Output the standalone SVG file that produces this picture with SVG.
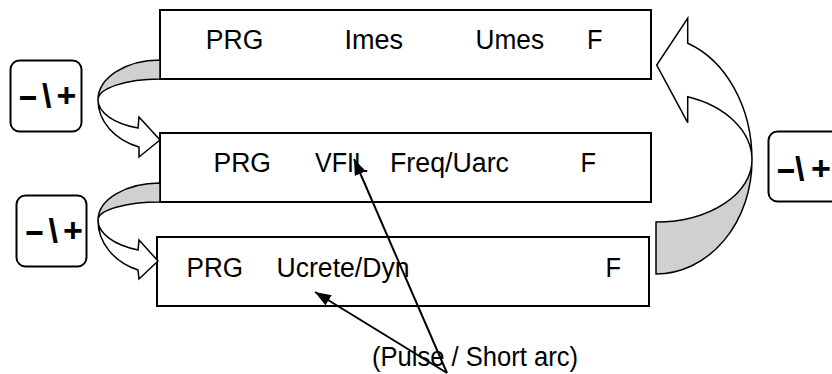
<svg xmlns="http://www.w3.org/2000/svg" width="832" height="374" viewBox="0 0 832 374">
<defs>
<style>
.box{fill:#fff;stroke:#000;stroke-width:2}
.t{font-family:"Liberation Sans",Arial,sans-serif;font-size:27px;fill:#000}
.key{font-family:"Liberation Sans",Arial,sans-serif;font-size:34px;font-weight:bold;fill:#000}
.keybox{fill:#fff;stroke:#000;stroke-width:2}
.back{fill:#d0d0d0;stroke:#000;stroke-width:1.5;stroke-linejoin:round}
.front{fill:#fff;stroke:#000;stroke-width:1.5;stroke-linejoin:miter}
.conn{fill:none;stroke:#000;stroke-width:2}
</style>
<marker id="ah" markerUnits="userSpaceOnUse" markerWidth="18" markerHeight="14" refX="16" refY="6" orient="auto">
<path d="M0,0 L16,6 L0,12 Z" fill="#000"/>
</marker>
</defs>
<rect width="832" height="374" fill="#fff"/>

<g id="box1">
<rect class="box" x="160" y="10" width="491" height="69"/>
<text class="t" x="205.8" y="49.3" textLength="57.5" lengthAdjust="spacingAndGlyphs">PRG</text>
<text class="t" x="344.5" y="49.3" textLength="58.5" lengthAdjust="spacingAndGlyphs">Imes</text>
<text class="t" x="475.5" y="49.3" textLength="68.5" lengthAdjust="spacingAndGlyphs">Umes</text>
<text class="t" x="587" y="49.3" textLength="15.5" lengthAdjust="spacingAndGlyphs">F</text>
</g>

<g id="box2">
<rect class="box" x="160" y="133" width="491" height="69"/>
<text class="t" x="213.5" y="172.3" textLength="57.5" lengthAdjust="spacingAndGlyphs">PRG</text>
<text class="t" x="315" y="172.3" textLength="53" lengthAdjust="spacingAndGlyphs">VFIL</text>
<text class="t" x="390" y="172.3" textLength="119" lengthAdjust="spacingAndGlyphs">Freq/Uarc</text>
<text class="t" x="580.5" y="172.3" textLength="15.5" lengthAdjust="spacingAndGlyphs">F</text>
</g>

<g id="box3">
<rect class="box" x="157" y="237" width="492" height="69"/>
<text class="t" x="186.5" y="276.7" textLength="56.5" lengthAdjust="spacingAndGlyphs">PRG</text>
<text class="t" x="276.5" y="276.7" textLength="133" lengthAdjust="spacingAndGlyphs">Ucrete/Dyn</text>
<text class="t" x="605.5" y="276.7" textLength="15.5" lengthAdjust="spacingAndGlyphs">F</text>
</g>

<g id="label">
<text class="t" x="372" y="366" textLength="206" lengthAdjust="spacingAndGlyphs">(Pulse / Short arc)</text>
</g>

<g id="key1">
<rect class="keybox" x="10.5" y="60.5" width="71" height="71" rx="9"/>
<text class="key" y="106.5"><tspan x="17.5" textLength="21" lengthAdjust="spacingAndGlyphs">-</tspan><tspan x="42">\</tspan><tspan x="56.6">+</tspan></text>
</g>
<g id="key2">
<rect class="keybox" x="16.5" y="195.5" width="70" height="71" rx="9"/>
<text class="key" y="242"><tspan x="24" textLength="21" lengthAdjust="spacingAndGlyphs">-</tspan><tspan x="48.5">\</tspan><tspan x="63">+</tspan></text>
</g>
<g id="key3">
<rect class="keybox" x="768.5" y="131.5" width="72" height="70" rx="9"/>
<text class="key" y="180"><tspan x="775.5" textLength="21" lengthAdjust="spacingAndGlyphs">-</tspan><tspan x="795">\</tspan><tspan x="811">+</tspan></text>
</g>

<g id="curved1">
<path class="back" d="M160,60 A62,40 0 0 0 98,100 A62,21 0 0 1 160,79 Z"/>
<path class="front" d="M98,100 A62,50 0 0 0 139,147 L139,157 L160,140 L139,117 L138,128 A62,30 0 0 1 98,100 Z"/>
</g>
<g id="curved2">
<path class="back" d="M160,183 A62,37 0 0 0 98,220 A62,18 0 0 1 160,202 Z"/>
<path class="front" d="M98,220 A62,53 0 0 0 138,270 L139,279 L158,261 L139,240 L138,250 A62,32 0 0 1 98,220 Z"/>
</g>
<g id="curved3">
<path class="back" d="M656,222 L656,274 A96,114 0 0 0 752,160 A96,62 0 0 1 656,222 Z"/>
<path class="front" d="M752,160 A96,123.6 0 0 0 687.7,43.3 L687.7,18.3 L656.7,65 L687.7,122.7 L687.7,96.7 A96,67 0 0 1 752,160 Z"/>
</g>

<g id="connectors">
<line class="conn" x1="447" y1="373" x2="354" y2="159" marker-end="url(#ah)"/>
<line class="conn" x1="447" y1="373" x2="315" y2="292" marker-end="url(#ah)"/>
</g>
</svg>
